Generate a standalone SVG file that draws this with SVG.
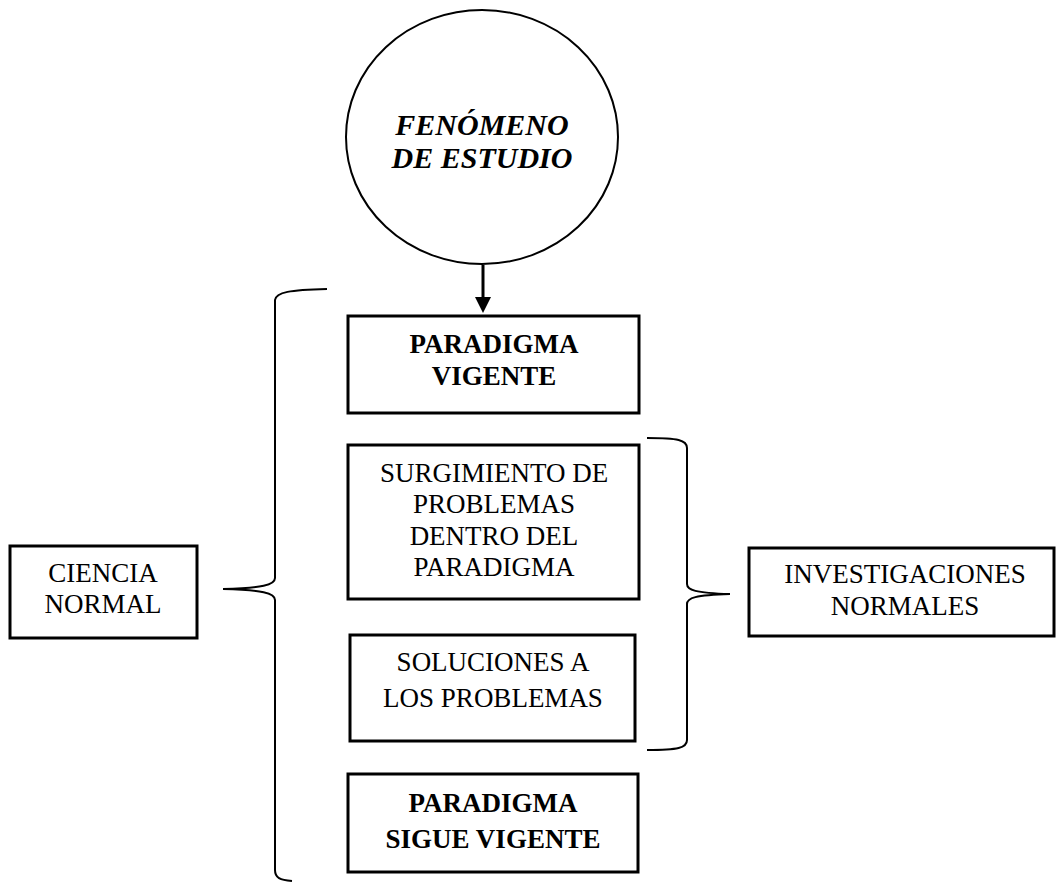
<svg xmlns="http://www.w3.org/2000/svg" width="1056" height="883" viewBox="0 0 1056 883">
<style>
.box{fill:#fff;stroke:#000;stroke-width:3}
.brace{fill:none;stroke:#000;stroke-width:2}
.t{font-family:"Liberation Serif","Times New Roman",serif;font-size:27px;fill:#000;text-anchor:middle}
.b{font-weight:bold}
.bi{font-weight:bold;font-style:italic;font-size:30px}
</style>
<defs>
<marker id="ah" markerWidth="16" markerHeight="16" refX="8" refY="15" orient="auto" markerUnits="userSpaceOnUse" viewBox="0 0 16 16">
<path d="M0,0 L16,0 L8,15 Z" fill="#000"/>
</marker>
</defs>
<rect width="1056" height="883" fill="#fff"/>
<g id="fenomeno">
<ellipse cx="482" cy="137" rx="136" ry="127" fill="#fff" stroke="#000" stroke-width="2"/>
<text class="t bi" x="482" y="135">FENÓMENO</text>
<text class="t bi" x="482" y="168">DE ESTUDIO</text>
</g>
<g id="connectors">
<line x1="483" y1="265" x2="483" y2="299" stroke="#000" stroke-width="3"/>
<path d="M475,297 L491,297 L483,313 Z" fill="#000"/>
<path class="brace" d="M327,289 C290,290 276,292 275,300 L275,578 C275,585 262,588 223,589 C262,590 275,593 275,600 L275,870 C275,878 280,880 292,881"/>
<path class="brace" d="M647,438 C678,438 687,440 687,448 L687,584 C687,590 695,593 730,594 C695,595 687,598 687,604 L687,740 C687,748 678,750 647,750"/>
</g>
<g id="paradigma-vigente">
<rect class="box" x="348" y="316" width="291" height="97"/>
<text class="t b" x="494" y="353">PARADIGMA</text>
<text class="t b" x="494" y="385">VIGENTE</text>
</g>
<g id="surgimiento">
<rect class="box" x="348" y="445" width="291" height="154"/>
<text class="t" x="494" y="482">SURGIMIENTO DE</text>
<text class="t" x="494" y="513">PROBLEMAS</text>
<text class="t" x="494" y="545">DENTRO DEL</text>
<text class="t" x="494" y="576">PARADIGMA</text>
</g>
<g id="soluciones">
<rect class="box" x="350" y="635" width="285" height="106"/>
<text class="t" x="493" y="671">SOLUCIONES A</text>
<text class="t" x="493" y="707">LOS PROBLEMAS</text>
</g>
<g id="paradigma-sigue">
<rect class="box" x="348" y="774" width="290" height="98"/>
<text class="t b" x="493" y="812">PARADIGMA</text>
<text class="t b" x="493" y="848">SIGUE VIGENTE</text>
</g>
<g id="ciencia-normal">
<rect class="box" x="10" y="546" width="187" height="92"/>
<text class="t" x="103" y="582">CIENCIA</text>
<text class="t" x="103" y="613">NORMAL</text>
</g>
<g id="investigaciones">
<rect class="box" x="749" y="548" width="305" height="88"/>
<text class="t" x="905" y="583">INVESTIGACIONES</text>
<text class="t" x="905" y="615">NORMALES</text>
</g>
</svg>
